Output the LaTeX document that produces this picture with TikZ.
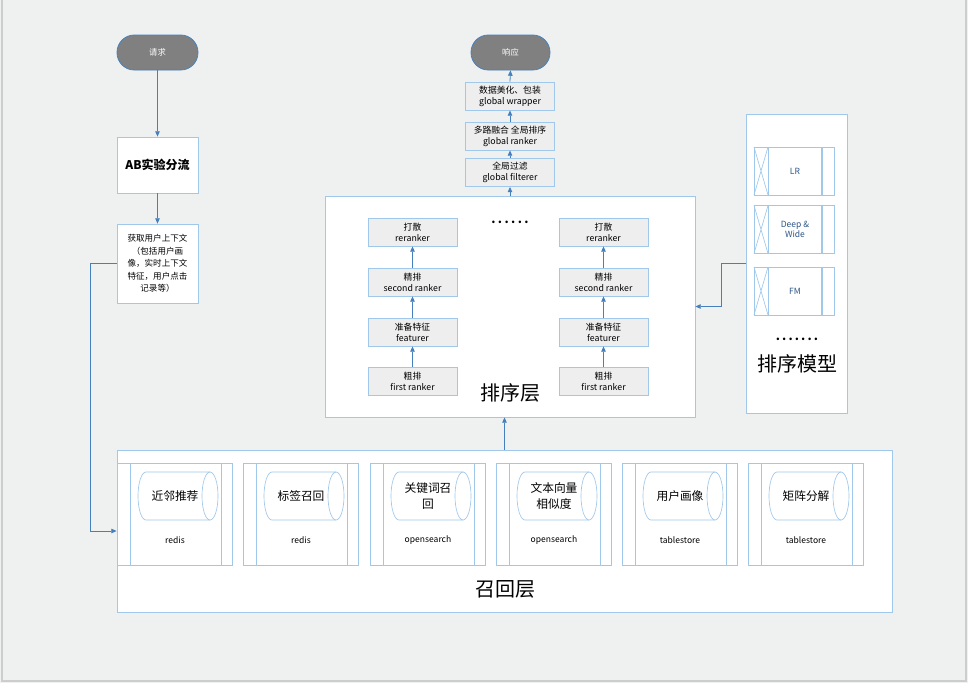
\documentclass[tikz,border=0pt]{standalone}
\usepackage{fontspec}
\setmainfont{Noto Sans CJK SC}
\usetikzlibrary{arrows.meta}
\definecolor{bgc}{RGB}{239,240,240}
\definecolor{edgec}{RGB}{205,205,205}
\definecolor{bdr}{RGB}{160,200,235}
\definecolor{arrc}{RGB}{70,128,188}
\definecolor{stad}{RGB}{128,128,128}
\definecolor{boxg}{RGB}{238,238,238}
\definecolor{mtxt}{RGB}{45,85,135}
\newcommand\fsz[2]{\fontsize{#1}{#2}\selectfont}
\begin{document}
\begin{tikzpicture}[x=0.75pt,y=-0.75pt,
  box/.style={draw=bdr,line width=0.6pt,fill=white,align=center,inner sep=0pt},
  stadium/.style={draw=arrc,line width=0.6pt,fill=stad,text=white,rounded corners=13pt,
    minimum height=26.25pt,inner sep=0pt,font=\fsz{6.2}{7.5}},
  gbox/.style={box,fill=boxg,minimum width=66.75pt,minimum height=21pt,font=\fsz{6.6}{8.2}},
  arr/.style={draw=arrc,line width=0.6pt,-{Triangle[length=4pt,width=3.4pt]}},
  bigtxt/.style={font=\fsz{15}{17}},
  dotstxt/.style={font=\fsz{9}{10}\bfseries},
  thin/.style={draw=bdr,line width=0.5pt},
]
\useasboundingbox (0,0) rectangle (968,683);
\fill[bgc] (0,0) rectangle (968,683);
\draw[edgec,line width=1.2pt] (2,0) -- (2,681) -- (966,681) -- (966,0);

% left column
\node[stadium,minimum width=60.75pt] (req) at (157.5,52.5) {请求};
\node[box,minimum width=60.75pt,minimum height=42pt,font=\fsz{9}{11}\bfseries] (ab) at (157.5,165) {AB实验分流};
\node[box,minimum width=60.75pt,minimum height=59.25pt,font=\fsz{6.4}{9.4}] (ctx) at (157.5,263.5)
  {获取用户上下文\\（包括用户画\\像，实时上下文\\特征，用户点击\\记录等）};
\draw[arr] (req.south) -- (ab.north);
\draw[arr] (ab.south) -- (ctx.north);

% top centre
\node[stadium,minimum width=59.25pt] (resp) at (510.5,52.5) {响应};
\node[gbox] (wrap) at (510,96) {数据美化、包装\\global wrapper};
\node[gbox] (grank) at (510,136) {多路融合 全局排序\\global ranker};
\node[gbox] (gfilt) at (510,172.5) {全局过滤\\global filterer};
\draw[arr] (wrap.north) -- (resp.south);
\draw[arr] (grank.north) -- (wrap.south);
\draw[arr] (gfilt.north) -- (grank.south);

% sort layer
\node[box,minimum width=277.5pt,minimum height=165.75pt] (sort) at (510,306.5) {};
\node[bigtxt] (sorttxt) at (510,393) {排序层};
\node[dotstxt] (sdots) at (510,222) {.\hspace{1.8pt}.\hspace{1.8pt}.\hspace{1.8pt}.\hspace{1.8pt}.\hspace{1.8pt}.};
\draw[arr] (sort.north) -- (gfilt.south);
\foreach \cx/\s in {412.5/a,603.5/b}{
  \node[gbox] (re\s) at (\cx,232) {打散\\reranker};
  \node[gbox] (se\s) at (\cx,282) {精排\\second ranker};
  \node[gbox] (fe\s) at (\cx,332) {准备特征\\featurer};
  \node[gbox] (fi\s) at (\cx,381.5) {粗排\\first ranker};
  \draw[arr] (fi\s.north) -- (fe\s.south);
  \draw[arr] (fe\s.north) -- (se\s.south);
  \draw[arr] (se\s.north) -- (re\s.south);
}

% model box
\node[box,minimum width=75.75pt,minimum height=224.25pt] (model) at (796.5,263.5) {};
\foreach \yy/\t [count=\i] in {171/LR,229.5/{Deep \&\\Wide},291/FM}{
  \node[box,minimum width=60pt,minimum height=36pt] (m\i) at (794,\yy) {};
  \draw[thin] (768,\yy-24) -- (768,\yy+24);
  \draw[draw=bdr,line width=0.9pt] (822,\yy-24) -- (822,\yy+24);
  \draw[thin] (754,\yy-24) -- (768,\yy+24) (768,\yy-24) -- (754,\yy+24);
  \node[text=mtxt,align=center,font=\fsz{6.4}{8}] (mt\i) at (795,\yy) {\t};
}
\node[dotstxt] (mdots) at (797,339) {.\hspace{1.6pt}.\hspace{1.6pt}.\hspace{1.6pt}.\hspace{1.6pt}.\hspace{1.6pt}.\hspace{1.6pt}.};
\node[bigtxt] (modeltxt) at (797,364) {排序模型};
\draw[arr] (model.west) -- ++(-24,0) |- (sort.east);

% recall layer
\node[box,minimum width=581.25pt,minimum height=121.5pt] (recall) at (504.5,531) {};
\node[bigtxt] (recalltxt) at (505,589) {召回层};
\draw[arr] (recall.north) -- (recall.north |- sort.south);
\draw[arr] (ctx.west) -- ++(-26,0) |- (recall.west);
\foreach \x/\t/\l [count=\i] in {117/近邻推荐/redis,243/标签召回/redis,370/{关键词召\\回}/opensearch,496/{文本向量\\相似度}/opensearch,622/用户画像/tablestore,748/矩阵分解/tablestore}{
  \node[box,minimum width=86.25pt,minimum height=76.5pt] (r\i) at (\x+57.5,514) {};
  \draw[thin] (\x+13,463) -- (\x+13,565) (\x+104,463) -- (\x+104,565);
  \draw[thin] (\x+93,472) -- (\x+29,472) arc[start angle=90,end angle=270,x radius=6pt,y radius=18pt] -- (\x+93,520);
  \draw[thin] (\x+93,496) ellipse[x radius=6pt,y radius=18pt];
  \node[align=center,font=\fsz{8.8}{12}] (rt\i) at (\x+58,496) {\t};
  \node[font=\fsz{6.4}{8}] (rl\i) at (\x+58,540) {\l};
}
\end{tikzpicture}
\end{document}
